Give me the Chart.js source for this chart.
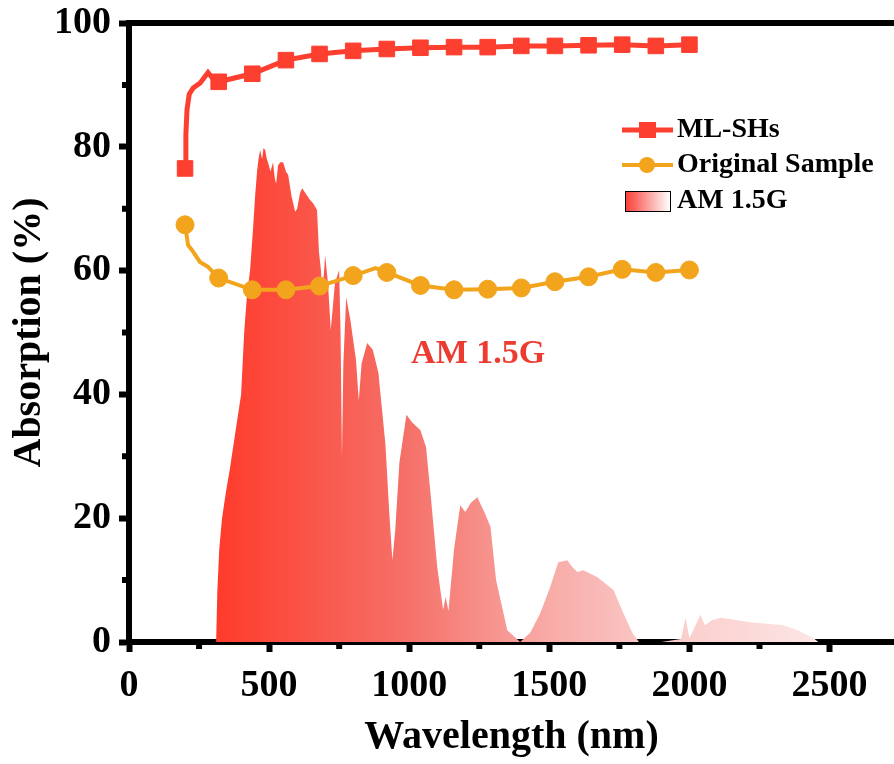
<!DOCTYPE html>
<html lang="en">
<head>
    <meta charset="UTF-8">
    <title>Absorption vs Wavelength</title>
    <script src="https://cdn.jsdelivr.net/npm/chart.js@4.4.1/dist/chart.umd.min.js"></script>
    <style>
        body {
            margin: 0;
            background: white;
        }
        #chart {
            display: block;
        }
    </style>
</head>
<body>
    <canvas id="chart" width="894" height="764"></canvas>

    <script>
        // Tick labels
        const xTicks = [0, 500, 1000, 1500, 2000, 2500];
        const yTicks = [0, 20, 40, 60, 80, 100];
        const minorX = [250, 750, 1250, 1750, 2250];
        const minorY = [10, 30, 50, 70, 90];

        // Wavelengths where the symbols sit (both samples)
        const markerNm = [200, 320, 440, 560, 680, 800, 920, 1040, 1160, 1280, 1400, 1520, 1640, 1760, 1880, 2000];

        // ML-SHs absorption (%)
        const mlNm  = [200, 203, 207, 215, 229, 254, 282, 300, 320, 440, 560, 680, 800, 920, 1040, 1160, 1280, 1400, 1520, 1640, 1760, 1880, 2000];
        const mlAbs = [76.5, 82, 86, 88.5, 89.5, 90.3, 92.0, 91.0, 90.5, 91.8, 94.0, 95.0, 95.5, 95.8, 96.0, 96.1, 96.1, 96.3, 96.3, 96.4, 96.5, 96.3, 96.5];

        // Original sample absorption (%)
        const origNm  = [200, 211, 225, 253, 282, 320, 440, 560, 680, 800, 880, 920, 1040, 1160, 1280, 1400, 1520, 1640, 1760, 1880, 2000];
        const origAbs = [67.4, 64.1, 63.3, 61.4, 60.6, 58.8, 56.9, 56.9, 57.5, 59.2, 60.4, 59.7, 57.6, 56.9, 57.0, 57.2, 58.2, 59.0, 60.2, 59.7, 60.1];

        // AM 1.5G solar spectrum, scaled to the absorption axis
        const amNm = [300, 311, 315, 322, 332, 345, 360, 380, 400, 411, 421, 432, 443, 450, 457, 462, 468, 475, 480, 486, 492, 496, 505, 514, 520, 525, 532, 540, 550, 560, 568, 580, 593, 600, 610, 618, 630, 645, 657, 671, 678, 685, 690, 700, 710, 720, 735, 750, 755, 760, 765, 775, 790, 810, 820, 830, 850, 870, 890, 915, 930, 940, 950, 965, 990, 1010, 1040, 1060, 1075, 1100, 1121, 1130, 1140, 1160, 1182, 1200, 1220, 1243, 1270, 1290, 1310, 1350, 1396, 1432, 1468, 1503, 1532, 1564, 1582, 1600, 1621, 1671, 1729, 1764, 1796, 1820, 1900, 1970, 1986, 2000, 2015, 2039, 2055, 2080, 2111, 2218, 2336, 2386, 2443, 2460];
        const amVal = [0, 0, 8, 15, 20, 24, 28, 34, 40, 50, 56, 60, 67, 72, 76, 78, 79.5, 78, 79.8, 79.5, 78, 77.5, 76, 77.5, 75, 74, 77, 77.5, 77.5, 76, 75.5, 72, 69.5, 70, 72.5, 73.3, 72.5, 71.5, 70.9, 69.8, 63, 60, 56, 62.5, 58, 50.4, 58, 60.1, 50, 30, 45, 55.7, 52, 45.6, 39, 45, 48.3, 47.2, 43.5, 32, 20, 13.2, 18, 29, 36.7, 35.5, 34.2, 31.5, 24.5, 12.1, 5.2, 7.3, 5, 15, 22.1, 21, 22.5, 23.4, 20.8, 18.6, 10, 1.9, 0, 1.5, 4.7, 8.9, 12.9, 13.2, 12.1, 11.3, 11.6, 10.5, 8.4, 4.7, 1.5, 0, 0, 0.5, 3.9, 0.6, 2, 4.4, 2.7, 3.5, 3.9, 3.2, 2.7, 1.9, 0.6, 0];

        const RED = "#fd3f2f";
        const ORANGE = "#f2a41d";
        const FONT = "'Liberation Serif', 'Times New Roman', serif";

        function toPoints(xs, ys) {
            return xs.map((x, i) => ({ x: x, y: ys[i] }));
        }

        function spectrumFill(ctx) {
            const chart = ctx.chart;
            if (!chart.chartArea) return RED;
            const xs = chart.scales.x;
            const g = chart.ctx.createLinearGradient(xs.getPixelForValue(300), 0, xs.getPixelForValue(2460), 0);
            g.addColorStop(0, "rgb(255,58,42)");
            g.addColorStop(0.32, "rgb(245,112,104)");
            g.addColorStop(0.55, "rgb(248,170,166)");
            g.addColorStop(0.72, "rgb(250,200,198)");
            g.addColorStop(1, "rgb(252,230,230)");
            return g;
        }

        // top frame line, minor ticks, the inside legend and the AM 1.5G label
        const decorations = {
            id: "decorations",
            afterDraw(chart) {
                const c = chart.ctx;
                const area = chart.chartArea;
                const xs = chart.scales.x;
                const ys = chart.scales.y;
                c.save();
                c.strokeStyle = "black";
                c.lineWidth = 6;
                c.beginPath();
                c.moveTo(area.left - 3, area.top);
                c.lineTo(area.right, area.top);
                c.stroke();

                c.beginPath();
                minorX.forEach(v => {
                    const px = xs.getPixelForValue(v);
                    c.moveTo(px, area.bottom);
                    c.lineTo(px, area.bottom + 7);
                });
                minorY.forEach(v => {
                    const py = ys.getPixelForValue(v);
                    c.moveTo(area.left, py);
                    c.lineTo(area.left - 7, py);
                });
                c.stroke();

                // AM 1.5G label inside the plot
                c.fillStyle = "#ec3b30";
                c.font = "bold 34px " + FONT;
                c.textAlign = "center";
                c.textBaseline = "middle";
                c.fillText("AM 1.5G", xs.getPixelForValue(1246), ys.getPixelForValue(46.5));

                // legend
                const lx = 622, tx = 677;
                const rows = [130, 165, 201];
                c.textAlign = "left";
                c.font = "bold 28px " + FONT;

                c.strokeStyle = RED;
                c.lineWidth = 5;
                c.beginPath();
                c.moveTo(lx, rows[0]);
                c.lineTo(lx + 51, rows[0]);
                c.stroke();
                c.fillStyle = RED;
                c.fillRect(lx + 17, rows[0] - 8, 17, 16);

                c.strokeStyle = ORANGE;
                c.lineWidth = 4;
                c.beginPath();
                c.moveTo(lx, rows[1]);
                c.lineTo(lx + 51, rows[1]);
                c.stroke();
                c.fillStyle = ORANGE;
                c.beginPath();
                c.arc(lx + 25, rows[1], 8, 0, Math.PI * 2);
                c.fill();

                const g = c.createLinearGradient(625, 0, 670, 0);
                g.addColorStop(0, "rgb(250,60,50)");
                g.addColorStop(1, "rgb(255,255,255)");
                c.fillStyle = g;
                c.fillRect(625, rows[2] - 10, 45, 20);
                c.strokeStyle = "black";
                c.lineWidth = 1;
                c.strokeRect(625.5, rows[2] - 9.5, 45, 20);

                c.fillStyle = "black";
                c.fillText("ML-SHs", tx, rows[0]);
                c.fillText("Original Sample", tx, rows[1]);
                c.fillText("AM 1.5G", tx, rows[2]);
                c.restore();
            }
        };

        const ctx = document.getElementById("chart").getContext("2d");
        const chart = new Chart(ctx, {
            type: "line",
            data: {
                datasets: [
                    {
                        label: "ML-SHs",
                        data: toPoints(mlNm, mlAbs),
                        borderColor: RED,
                        backgroundColor: RED,
                        borderWidth: 5,
                        pointStyle: "rect",
                        pointRadius: c => markerNm.includes(mlNm[c.dataIndex]) ? 11 : 0,
                        pointBorderWidth: 1,
                        fill: false
                    },
                    {
                        label: "Original Sample",
                        data: toPoints(origNm, origAbs),
                        borderColor: ORANGE,
                        backgroundColor: ORANGE,
                        borderWidth: 4,
                        pointStyle: "circle",
                        pointRadius: c => markerNm.includes(origNm[c.dataIndex]) ? 9 : 0,
                        pointBorderWidth: 1,
                        fill: false
                    },
                    {
                        label: "AM 1.5G",
                        data: toPoints(amNm, amVal),
                        borderWidth: 0,
                        borderColor: "rgba(0,0,0,0)",
                        backgroundColor: spectrumFill,
                        pointRadius: 0,
                        fill: "origin"
                    }
                ]
            },
            options: {
                responsive: false,
                animation: false,
                layout: {
                    autoPadding: false,
                    padding: { top: 23, left: 0, right: 0, bottom: 0 }
                },
                plugins: {
                    legend: { display: false },
                    tooltip: { enabled: false }
                },
                scales: {
                    x: {
                        type: "linear",
                        min: 0,
                        max: 2730,
                        afterBuildTicks: s => { s.ticks = xTicks.map(v => ({ value: v })); },
                        afterFit: s => {
                            s.height = 122;
                            s.paddingRight = 0;
                            s.paddingLeft = 0;
                        },
                        grid: {
                            drawOnChartArea: false,
                            tickLength: 10,
                            tickWidth: 6,
                            tickColor: "black"
                        },
                        border: { color: "black", width: 6 },
                        ticks: {
                            color: "black",
                            padding: 11,
                            maxRotation: 0,
                            autoSkip: false,
                            callback: v => String(v),
                            font: { family: FONT, weight: "bold", size: 38 }
                        },
                        title: {
                            display: true,
                            text: "Wavelength (nm)",
                            color: "black",
                            padding: { top: 0, bottom: 2 },
                            font: { family: FONT, weight: "bold", size: 40 }
                        }
                    },
                    y: {
                        min: 0,
                        max: 100,
                        afterBuildTicks: s => { s.ticks = yTicks.map(v => ({ value: v })); },
                        afterFit: s => {
                            s.width = 129;
                            s.paddingTop = 0;
                            s.paddingBottom = 0;
                        },
                        grid: {
                            drawOnChartArea: false,
                            tickLength: 10,
                            tickWidth: 6,
                            tickColor: "black"
                        },
                        border: { color: "black", width: 6 },
                        ticks: {
                            color: "black",
                            padding: 8,
                            autoSkip: false,
                            callback: v => String(v),
                            font: { family: FONT, weight: "bold", size: 38 }
                        },
                        title: {
                            display: true,
                            text: "Absorption (%)",
                            color: "black",
                            padding: { top: 6, bottom: 0 },
                            font: { family: FONT, weight: "bold", size: 40 }
                        }
                    }
                }
            },
            plugins: [decorations]
        });
    </script>
</body>
</html>
